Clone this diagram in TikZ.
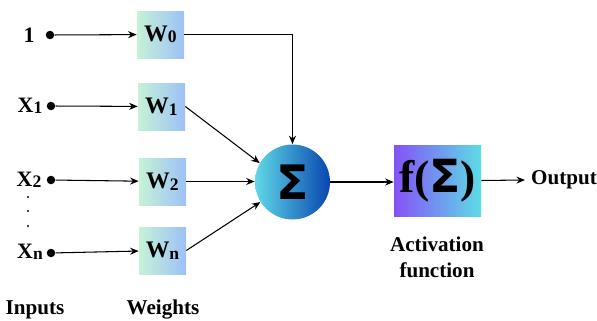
\documentclass[tikz,border=0pt]{standalone}
\usepackage{fontspec}
\setmainfont{Liberation Serif}
\newfontfamily\sigmafont{DejaVu Sans}
\usetikzlibrary{arrows.meta,positioning,calc}
\definecolor{NnMint}{RGB}{198,242,214}
\definecolor{NnSky}{RGB}{156,193,247}
\definecolor{NnCyan}{RGB}{96,216,232}
\definecolor{NnBlue}{RGB}{8,70,176}
\definecolor{NnViolet}{RGB}{133,82,247}
\definecolor{NnAqua}{RGB}{93,220,230}
\newcommand{\lowsub}[1]{\raisebox{-0.15ex}{\fontsize{10}{10}\selectfont #1}}
\tikzset{
  nn/input/.style={
    font=\bfseries\fontsize{12.5}{14}\selectfont,
    inner sep=1pt
  },
  nn/dot/.style={circle, fill=black, inner sep=0pt, minimum size=0.17cm},
  nn/vdot/.style={circle, fill=black, inner sep=0pt, minimum size=0.045cm},
  nn/weight/.style={
    rectangle,
    left color=NnMint,
    right color=NnSky,
    minimum width=0.94cm,
    minimum height=0.94cm,
    inner sep=0pt,
    font=\bfseries\fontsize{13.5}{15}\selectfont
  },
  nn/sum/.style={
    circle,
    left color=NnCyan,
    right color=NnBlue,
    minimum size=1.5cm,
    inner sep=0pt,
    font=\sigmafont\bfseries\fontsize{27}{29}\selectfont
  },
  nn/act/.style={
    rectangle,
    left color=NnViolet,
    right color=NnAqua,
    minimum width=1.74cm,
    minimum height=1.42cm,
    inner sep=0pt,
    font=\bfseries\fontsize{26}{28}\selectfont
  },
  nn/arrow/.style={-{Stealth[length=1.7mm,width=1.4mm]}, line width=0.6pt, draw=black},
  nn/label/.style={font=\bfseries\fontsize{12}{15}\selectfont, align=center}
}

\begin{document}
\begin{tikzpicture}[x=1cm,y=1cm]
  \useasboundingbox (0,0) rectangle (11.94,6.4);
  \node[nn/input] (in0) at (0.58,5.70) {1};
  \node[nn/input] (in1) at (0.60,4.28) {X\lowsub{1}};
  \node[nn/input] (in2) at (0.58,2.80) {X\lowsub{2}};
  \node[nn/input] (inn) at (0.60,1.36) {X\lowsub{n}};
  \node[nn/dot] (d0) at (1.00,5.70) {};
  \node[nn/dot] (d1) at (1.02,4.28) {};
  \node[nn/dot] (d2) at (1.02,2.80) {};
  \node[nn/dot] (dn) at (1.02,1.34) {};
  \node[nn/vdot] (v1) at (0.56,2.46) {};
  \node[nn/vdot] (v2) at (0.56,2.18) {};
  \node[nn/vdot] (v3) at (0.56,1.88) {};
  \node[nn/weight] (w0) at (3.21,5.71) {W\lowsub{0}};
  \node[nn/weight] (w1) at (3.23,4.27) {W\lowsub{1}};
  \node[nn/weight] (w2) at (3.25,2.77) {W\lowsub{2}};
  \node[nn/weight] (wn) at (3.25,1.39) {W\lowsub{n}};
  \node[nn/sum] (sum) at (5.85,2.76) {Σ};
  \node[nn/act] (act) at (8.75,2.79) {f({\sigmafont\bfseries Σ})};
  \node[nn/label] (out) at (11.28,2.80) {Output};
  \node[nn/label] (actlabel) at (8.74,1.25) {Activation\\function};
  \node[nn/label] (inlabel) at (0.70,0.20) {Inputs};
  \node[nn/label] (wlabel) at (3.26,0.20) {Weights};
  \draw[nn/arrow] (d0) -- (w0);
  \draw[nn/arrow] (d1) -- (w1);
  \draw[nn/arrow] (d2) -- (w2);
  \draw[nn/arrow] (dn) -- (wn);
  \draw[nn/arrow] (w0.east) -| (sum.north);
  \draw[nn/arrow] (w1.east) -- (sum.150);
  \draw[nn/arrow] (w2.east) -- (sum.west |- w2.east);
  \draw[nn/arrow] (wn.east) -- (sum.212);
  \draw[nn/arrow] (sum.east) -- (act.west |- sum.east);
  \draw[nn/arrow] (act.east) -- (out.west);
\end{tikzpicture}
\end{document}
